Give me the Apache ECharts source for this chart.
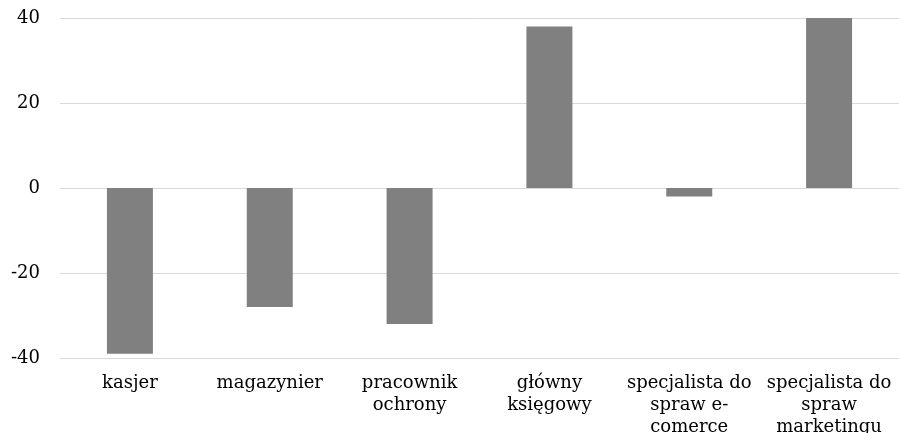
<!DOCTYPE html>
<html><head><meta charset="utf-8">
<script src="https://cdn.jsdelivr.net/npm/echarts@6/dist/echarts.min.js"></script>
<style>html,body{margin:0;padding:0;background:#fff}#c{width:899px;height:433px}</style>
</head><body><div id="c"></div>
<script>
var categories = ['kasjer', 'magazynier', 'pracownik\nochrony', 'główny\nksięgowy', 'specjalista do\nspraw e-\ncomerce', 'specjalista do\nspraw\nmarketingu'];
var values = [-39, -28, -32, 38, -2, 40];
var yTicks = [-40, -20, 0, 20, 40];

var chart = echarts.init(document.getElementById('c'), null, {renderer: 'canvas'});
chart.setOption({
  animation: false,
  backgroundColor: '#ffffff',
  grid: {left: 60, right: 0, top: 18, bottom: 75, containLabel: false, outerBoundsMode: 'none'},
  xAxis: {
    type: 'category',
    data: categories,
    axisLine: {show: false, onZero: false},
    axisTick: {show: false},
    axisLabel: {
      interval: 0, margin: 14,
      fontFamily: 'DejaVu Serif', fontSize: 18, color: '#000', lineHeight: 22
    }
  },
  yAxis: {
    type: 'value',
    min: yTicks[0], max: yTicks[yTicks.length - 1], interval: 20,
    axisLine: {show: false},
    axisTick: {show: false},
    splitLine: {lineStyle: {color: '#d9d9d9', width: 1}},
    axisLabel: {margin: 20, fontFamily: 'DejaVu Serif', fontSize: 18, color: '#000'}
  },
  series: [{
    type: 'bar',
    data: values,
    barWidth: 46,
    itemStyle: {color: '#808080'}
  }]
});
</script></body></html>
